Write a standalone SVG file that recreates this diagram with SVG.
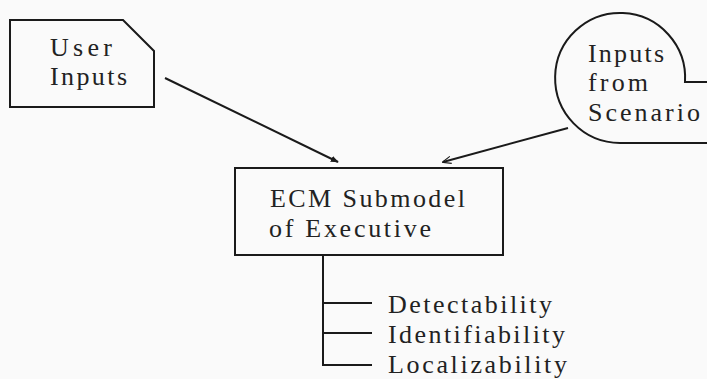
<svg xmlns="http://www.w3.org/2000/svg" width="707" height="379" viewBox="0 0 707 379">
<defs>
<style>
.s{fill:none;stroke:#1a1a1a;stroke-width:2}
.t{font-family:"Liberation Serif","Times New Roman",serif;font-size:26px;fill:#222}
</style>
<marker id="af" viewBox="0 0 10 10" refX="9" refY="5" markerWidth="8" markerHeight="8" orient="auto" markerUnits="userSpaceOnUse"><path d="M0,1 L10,5 L0,9 Z" fill="#1a1a1a"/></marker>
<marker id="ao" viewBox="0 0 10 10" refX="9" refY="5" markerWidth="9" markerHeight="9" orient="auto" markerUnits="userSpaceOnUse"><path d="M0,1 L10,5 L0,9" fill="none" stroke="#1a1a1a" stroke-width="1.2"/></marker>
</defs>
<rect width="707" height="379" fill="#fafafa"/>
<g id="user-inputs">
<path class="s" d="M10,20 H123 L154,51 V107 H10 Z"/>
<text class="t" x="50" y="56" textLength="62" lengthAdjust="spacing">User</text>
<text class="t" x="50" y="85" textLength="77" lengthAdjust="spacing">Inputs</text>
</g>
<g id="inputs-from-scenario">
<path class="s" d="M707,82 H685 A65,65 0 1 0 620,143 H707"/>
<text class="t" x="588" y="62" textLength="76" lengthAdjust="spacing">Inputs</text>
<text class="t" x="588" y="91" textLength="60" lengthAdjust="spacing">from</text>
<text class="t" x="588" y="121" textLength="112" lengthAdjust="spacing">Scenario</text>
</g>
<g id="ecm-submodel">
<rect class="s" x="235" y="168" width="268" height="87"/>
<text class="t" x="270" y="207" textLength="195" lengthAdjust="spacing">ECM Submodel</text>
<text class="t" x="269" y="237" textLength="162" lengthAdjust="spacing">of Executive</text>
</g>
<g id="outputs">
<text class="t" x="388" y="313" textLength="164" lengthAdjust="spacing">Detectability</text>
<text class="t" x="388" y="343" textLength="177" lengthAdjust="spacing">Identifiability</text>
<text class="t" x="388" y="373" textLength="179" lengthAdjust="spacing">Localizability</text>
</g>
<g id="connectors">
<line class="s" x1="165" y1="78" x2="338" y2="162" marker-end="url(#af)"/>
<line class="s" x1="568" y1="128" x2="443" y2="162" marker-end="url(#ao)"/>
<path class="s" d="M323,255 V365 H372 M323,303 H372 M323,333 H372"/>
</g>
</svg>
